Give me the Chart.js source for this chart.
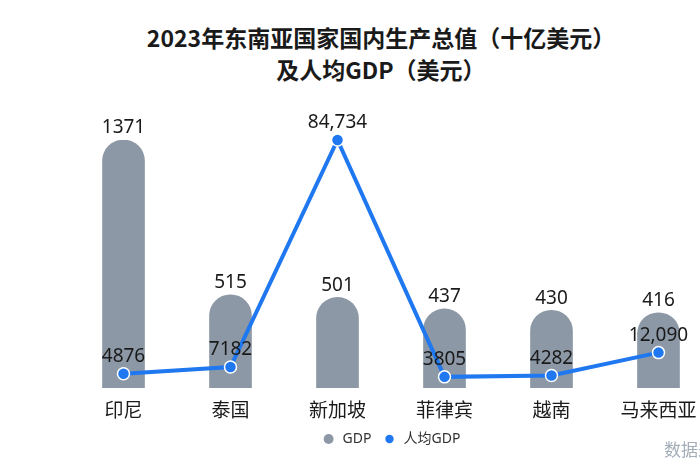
<!DOCTYPE html>
<html lang="zh">
<head>
<meta charset="UTF-8">
<title>2023年东南亚国家GDP</title>
<script src="https://cdn.jsdelivr.net/npm/chart.js"></script>
<style>
  body { margin: 0; width: 700px; height: 470px; overflow: hidden; background: #fff; position: relative; }
  .title {
    position: absolute; top: 21px; left: 81px; width: 600px; text-align: center;
    font: bold 23px/32px "Noto Sans CJK SC", sans-serif; color: #1a1a1a;
  }
  .source {
    position: absolute; left: 664px; top: 436px; white-space: nowrap;
    font: 17px "Noto Sans CJK SC", sans-serif; color: #a3adb8;
  }
  .wrap { position: absolute; left: 0; top: 0; width: 784px; height: 470px; }
</style>
</head>
<body>
<div class="title">2023年东南亚国家国内生产总值（十亿美元）<br>及人均GDP（美元）</div>
<div class="wrap"><canvas id="chart"></canvas></div>
<div class="source">数据来源：</div>
<script>
// data
const countries = ['印尼', '泰国', '新加坡', '菲律宾', '越南', '马来西亚'];
const gdp = [1371, 515, 501, 437, 430, 416];          // 十亿美元
const gdpPerCapita = [4876, 7182, 84734, 3805, 4282, 12090]; // 美元

const FONT = '"Noto Sans", "Noto Sans CJK SC", sans-serif';

function fmt(v) {
  return v >= 10000 ? v.toLocaleString('en-US') : String(v);
}

// draws the numbers above bars and points
const valueLabels = {
  id: 'valueLabels',
  afterDatasetsDraw(chart) {
    const ctx = chart.ctx;
    ctx.save();
    ctx.font = '19px ' + FONT;
    ctx.fillStyle = '#1a1a1a';
    ctx.textAlign = 'center';
    ctx.textBaseline = 'middle';
    chart.getDatasetMeta(0).data.forEach((bar, i) => {
      ctx.fillText(fmt(gdp[i]), bar.x, bar.y - 12);
    });
    chart.getDatasetMeta(1).data.forEach((pt, i) => {
      ctx.fillText(fmt(gdpPerCapita[i]), pt.x, pt.y - 17);
    });
    ctx.restore();
  }
};

new Chart(document.getElementById('chart'), {
  data: {
    labels: countries,
    datasets: [
      {
        type: 'bar',
        label: 'GDP',
        data: gdp,
        yAxisID: 'y',
        backgroundColor: '#8c98a5',
        barThickness: 42,
        borderRadius: { topLeft: 21, topRight: 21 },
        borderSkipped: 'start',
        order: 2
      },
      {
        type: 'line',
        label: '人均GDP',
        data: gdpPerCapita,
        yAxisID: 'y1',
        borderColor: '#1f78f0',
        backgroundColor: '#1f78f0',
        borderWidth: 4,
        tension: 0,
        clip: false,
        pointRadius: 6,
        pointBackgroundColor: '#1f78f0',
        pointBorderColor: '#ffffff',
        pointBorderWidth: 1.5,
        order: 1
      }
    ]
  },
  options: {
    responsive: true,
    maintainAspectRatio: false,
    animation: false,
    layout: { padding: { top: 140, left: 70, right: 72, bottom: 14 } },
    scales: {
      x: {
        grid: { display: false, drawTicks: false },
        border: { display: false },
        ticks: { font: { size: 19, family: FONT }, color: '#1a1a1a', padding: 12 },
        afterFit: (scale) => { scale.height = 33; }
      },
      y: { display: false, min: 0, max: 1371 },
      y1: { display: false, min: 0, max: 84734 }
    },
    plugins: {
      tooltip: { enabled: false },
      legend: {
        position: 'bottom',
        labels: {
          usePointStyle: true,
          pointStyle: 'circle',
          boxWidth: 14,
          boxHeight: 7,
          padding: 11,
          font: { size: 14, family: FONT },
          color: '#333',
          sort: (a, b) => a.datasetIndex - b.datasetIndex
        }
      }
    }
  },
  plugins: [valueLabels]
});
</script>
</body>
</html>
